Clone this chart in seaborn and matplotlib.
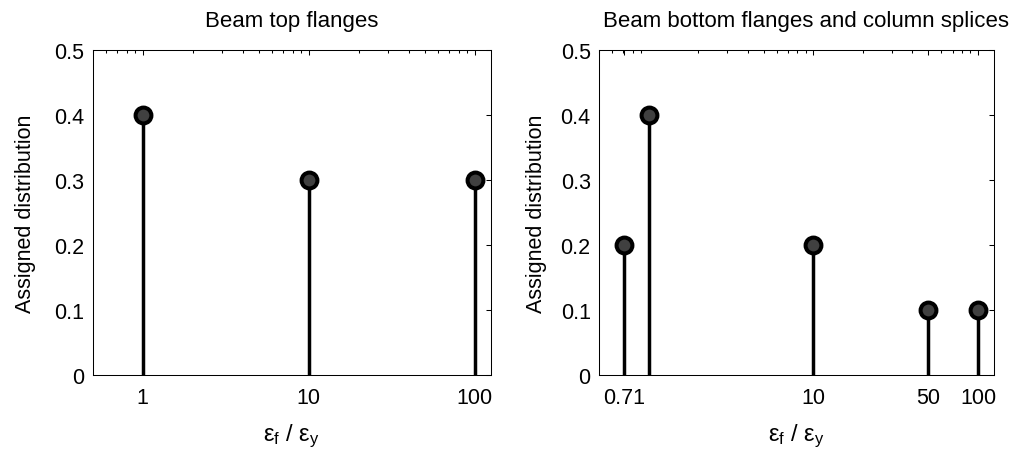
import numpy as np
import matplotlib
matplotlib.use("Agg")
import matplotlib.pyplot as plt
import seaborn as sns
from matplotlib.ticker import FixedLocator, FixedFormatter, LogLocator, NullFormatter

# Strain-ratio levels and their assigned probabilities
top_ratio = [1, 10, 100]
top_share = [0.4, 0.3, 0.3]

bottom_ratio = [0.71, 1, 10, 50, 100]
bottom_share = [0.2, 0.4, 0.2, 0.1, 0.1]

top_ticks = [1, 10, 100]
top_tick_labels = ["1", "10", "100"]
bottom_ticks = [0.71, 10, 50, 100]
bottom_tick_labels = ["0.71", "10", "50", "100"]

y_ticks = [0, 0.1, 0.2, 0.3, 0.4, 0.5]
y_tick_labels = ["0", "0.1", "0.2", "0.3", "0.4", "0.5"]

titles = ["Beam top flanges", "Beam bottom flanges and column splices"]

sns.set_style("white")
plt.rcParams["font.family"] = ["Liberation Sans", "DejaVu Sans"]
plt.rcParams["font.size"] = 15
plt.rcParams["text.color"] = "black"
plt.rcParams["axes.labelcolor"] = "black"
plt.rcParams["xtick.color"] = "black"
plt.rcParams["ytick.color"] = "black"
plt.rcParams["mathtext.fontset"] = "custom"
plt.rcParams["mathtext.rm"] = "Liberation Sans"
plt.rcParams["mathtext.it"] = "Liberation Sans"

W, H = 1026, 452
fig = plt.figure(figsize=(W / 100, H / 100), dpi=100)
fig.patch.set_facecolor("white")

boxes = [(92.7, 490.7), (599, 994)]
top_px, bot_px = 51, 376
title_x = [0.5, 0.525]
ylabel_pad = [13, 10]

panels = [
    (top_ratio, top_share, top_ticks, top_tick_labels),
    (bottom_ratio, bottom_share, bottom_ticks, bottom_tick_labels),
]

for i, ((x0, x1), (xs, ys, ticks, tlabels), title) in enumerate(zip(boxes, panels, titles)):
    ax = fig.add_axes([x0 / W, 1 - bot_px / H, (x1 - x0) / W, (bot_px - top_px) / H])
    ax.set_xscale("log")
    ax.vlines(xs, 0, ys, color="black", linewidth=2.5, zorder=2)
    sns.scatterplot(x=xs, y=ys, ax=ax, s=130, color="#404040",
                    edgecolor="black", linewidth=2.9, zorder=3, legend=False,
                    clip_on=False)
    ax.set_xlim(0.5, 125)
    ax.set_ylim(0, 0.5)

    ax.xaxis.set_major_locator(FixedLocator(ticks))
    ax.xaxis.set_major_formatter(FixedFormatter(tlabels))
    ax.xaxis.set_minor_locator(LogLocator(base=10, subs=np.arange(2, 10)))
    ax.xaxis.set_minor_formatter(NullFormatter())
    ax.yaxis.set_major_locator(FixedLocator(y_ticks))
    ax.yaxis.set_major_formatter(FixedFormatter(y_tick_labels))

    ax.tick_params(which="both", direction="in", top=True, right=True,
                   colors="black", width=0.75)
    ax.tick_params(which="major", length=3.5, labelsize=15.5)
    ax.tick_params(which="minor", length=2.2)
    ax.tick_params(axis="x", which="major", pad=8.5)
    ax.tick_params(axis="y", which="major", pad=6)

    for sp in ax.spines.values():
        sp.set_color("black")
        sp.set_linewidth(0.75)

    ax.set_title(title, fontsize=16, pad=17, color="black", x=title_x[i])
    ax.set_xlabel(r"$\mathregular{\varepsilon_f}$ / $\mathregular{\varepsilon_y}$",
                  fontsize=17, labelpad=10)
    ax.set_ylabel("Assigned distribution", fontsize=15.5, labelpad=ylabel_pad[i])

fig.savefig("out.png", dpi=100, facecolor="white")
